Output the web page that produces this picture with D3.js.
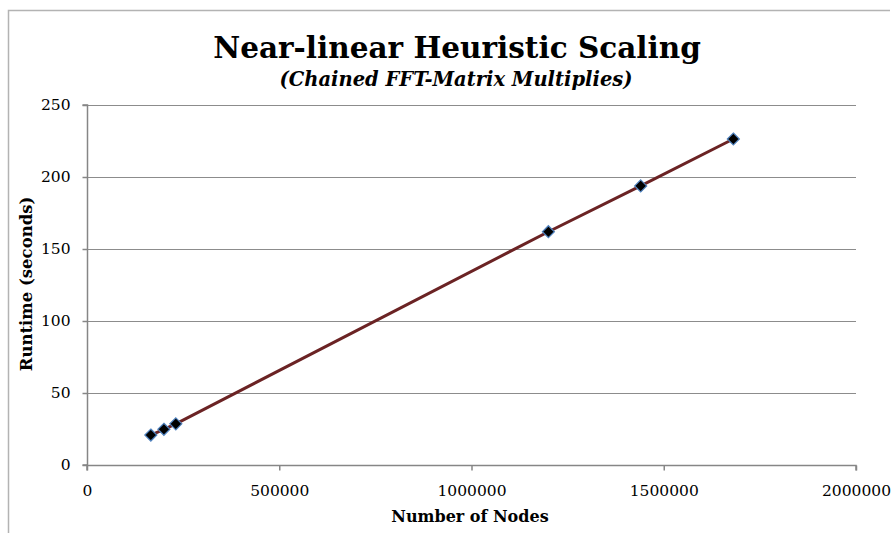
<!DOCTYPE html>
<html>
<head>
<meta charset="utf-8">
<script src="https://cdn.jsdelivr.net/npm/d3@7"></script>
<style>
  html, body { margin: 0; padding: 0; background: #fff; }
  svg { display: block; }
  text { font-family: "DejaVu Serif", "Liberation Serif", serif; fill: #000; }
</style>
</head>
<body>
<svg id="chart" width="891" height="533"></svg>
<script>
// Runtime of chained FFT-matrix multiplies against graph size
const nodes   = [166000, 200000, 231000, 1200000, 1440000, 1681000];
const runtime = [20.8, 24.8, 28.6, 162, 193.8, 226.4];
const xTicks  = [0, 500000, 1000000, 1500000, 2000000];
const yTicks  = [0, 50, 100, 150, 200, 250];

const titleText    = "Near-linear Heuristic Scaling";
const subtitleText = "(Chained FFT-Matrix Multiplies)";
const xTitle       = "Number of Nodes";
const yTitle       = "Runtime (seconds)";

const data = nodes.map((n, i) => ({ x: n, y: runtime[i] }));

const svg = d3.select("#chart");
const plot = { left: 87, right: 856, top: 105, bottom: 465 };

const x = d3.scaleLinear().domain([0, 2000000]).range([plot.left, plot.right]);
const y = d3.scaleLinear().domain([0, 250]).range([plot.bottom, plot.top]);

// outer chart frame
svg.append("path")
  .attr("d", `M8.5,540 V10.5 H890`)
  .attr("fill", "none")
  .attr("stroke", "#b3b3b3")
  .attr("stroke-width", 1.5);

// horizontal gridlines
svg.append("g")
  .selectAll("line")
  .data(yTicks.filter(t => t > 0))
  .join("line")
  .attr("x1", plot.left).attr("x2", plot.right)
  .attr("y1", d => Math.round(y(d)) + 0.5).attr("y2", d => Math.round(y(d)) + 0.5)
  .attr("stroke", "#8c8c8c")
  .attr("stroke-width", 1);

// axes
const yAxis = d3.axisLeft(y).tickValues(yTicks).tickSize(5).tickPadding(12).tickFormat(d3.format("d"));
const xAxis = d3.axisBottom(x).tickValues(xTicks).tickSize(5).tickPadding(14).tickFormat(d3.format("d"));

const gy = svg.append("g").attr("transform", `translate(${plot.left + 0.5},0)`).call(yAxis);
const gx = svg.append("g").attr("transform", `translate(0,${plot.bottom + 0.5})`).call(xAxis);

[gx, gy].forEach(g => {
  g.select(".domain").attr("stroke", "#868686").attr("stroke-width", 1.5);
  g.selectAll(".tick line").attr("stroke", "#868686").attr("stroke-width", 1.5);
  g.selectAll(".tick text")
    .attr("font-family", "DejaVu Serif, serif")
    .attr("font-size", 15.5)
    .attr("fill", "#000");
});
gy.select(".domain").attr("d", `M-5,${plot.top}H0V${plot.bottom}H-5`);
gx.select(".domain").attr("d", `M${plot.left},5V0H${plot.right}V5`);

// series line
svg.append("path")
  .datum(data)
  .attr("fill", "none")
  .attr("stroke", "#6b2324")
  .attr("stroke-width", 3)
  .attr("d", d3.line().x(d => x(d.x)).y(d => y(d.y)));

// diamond markers
svg.append("g")
  .selectAll("path")
  .data(data)
  .join("path")
  .attr("transform", d => `translate(${x(d.x)},${y(d.y)})`)
  .attr("d", "M0,-6L6,0L0,6L-6,0Z")
  .attr("fill", "#000")
  .attr("stroke", "#4f81bd")
  .attr("stroke-width", 1.2);

// titles
svg.append("text")
  .attr("x", 457).attr("y", 58)
  .attr("text-anchor", "middle")
  .attr("font-size", 29.5)
  .attr("font-weight", "bold")
  .text(titleText);

svg.append("text")
  .attr("x", 456).attr("y", 86)
  .attr("text-anchor", "middle")
  .attr("font-size", 19.5)
  .attr("font-weight", "bold")
  .attr("font-style", "italic")
  .text(subtitleText);

svg.append("text")
  .attr("x", 470).attr("y", 522)
  .attr("text-anchor", "middle")
  .attr("font-size", 16)
  .attr("font-weight", "bold")
  .text(xTitle);

svg.append("text")
  .attr("transform", "translate(32,284) rotate(-90)")
  .attr("text-anchor", "middle")
  .attr("font-size", 16.5)
  .attr("font-weight", "bold")
  .text(yTitle);
</script>
</body>
</html>
